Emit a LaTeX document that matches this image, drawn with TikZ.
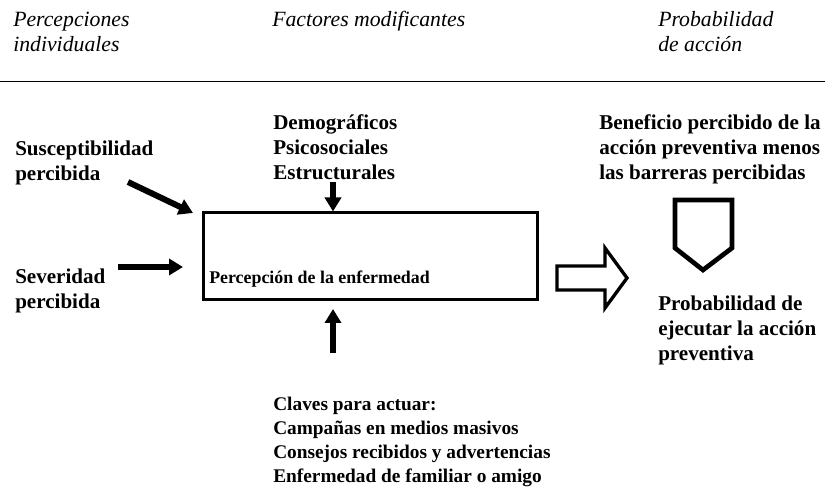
\documentclass[tikz,border=0pt]{standalone}
\usepackage{fontspec}
\setmainfont{Liberation Serif}
\usetikzlibrary{arrows.meta}
\begin{document}
\begin{tikzpicture}[x=0.75pt,y=-0.75pt,
    titulo/.style={anchor=base west,inner sep=0pt,align=left,
        font=\fontsize{16.3}{18.75}\selectfont\itshape},
    etiqueta/.style={anchor=base west,inner sep=0pt,align=left,
        font=\fontsize{15.8}{18.75}\selectfont\bfseries},
    flecha/.style={line width=4.5pt,-{Triangle[length=10.5pt,width=12pt]}}]
    \useasboundingbox (0,0) rectangle (825,495);
    % encabezados (ancla en la linea base de la ultima linea)
    \node[titulo] (percepciones) at (13,52) {Percepciones\\individuales};
    \node[titulo] (factores) at (272,27) {Factores modificantes};
    \node[titulo] (probabilidad) at (658,52) {Probabilidad\\de acción};
    \draw[line width=0.6pt] (0,81) -- (825,81);
    % percepciones individuales
    \node[etiqueta] (suscept) at (15,181) {Susceptibilidad\\percibida};
    \node[etiqueta] (severidad) at (15,309) {Severidad\\percibida};
    % factores modificantes
    \node[etiqueta] (demograficos) at (273,180) {Demográficos\\Psicosociales\\Estructurales};
    \node[draw,line width=2.25pt,minimum width=250.5pt,minimum height=65.25pt,inner sep=0pt]
        (caja) at (370,256.5) {};
    \node[anchor=base west,inner sep=0pt,font=\fontsize{13.4}{15}\selectfont\bfseries]
        (enfermedad) at (209,284) {Percepción de la enfermedad};
    \node[etiqueta,font=\fontsize{14.5}{18}\selectfont\bfseries] (claves) at (273,482)
        {Claves para actuar:\\Campañas en medios masivos\\Consejos recibidos y advertencias\\Enfermedad de familiar o amigo};
    % probabilidad de accion
    \node[etiqueta] (beneficio) at (599,180) {Beneficio percibido de la\\acción preventiva menos\\las barreras percibidas};
    \node[etiqueta] (ejecutar) at (658,361) {Probabilidad de\\ejecutar la acción\\preventiva};
    % flechas
    \coordinate (s1) at (128,182);
    \coordinate (s2) at (193,213);
    \coordinate (v1) at (118,267);
    \coordinate (v2) at (183,267);
    \coordinate (d1) at (333,182);
    \coordinate (c1) at (333,353);
    \coordinate (c2) at (333,309);
    \draw[flecha] (s1) -- (s2);
    \draw[flecha] (v1) -- (v2);
    \draw[flecha] (d1) -- (caja.north -| d1);
    \draw[flecha] (c1) -- (c2);
    % flecha hueca
    \draw[line width=2.5pt,line join=miter]
        (557,266) -- (605,266) -- (605,248) -- (627,278) -- (605,308) -- (605,290) -- (557,290) -- cycle;
    % escudo
    \draw[line width=3.5pt,line join=miter]
        (675,200) -- (732,200) -- (732,248) -- (703,270) -- (675,248) -- cycle;
\end{tikzpicture}
\end{document}
